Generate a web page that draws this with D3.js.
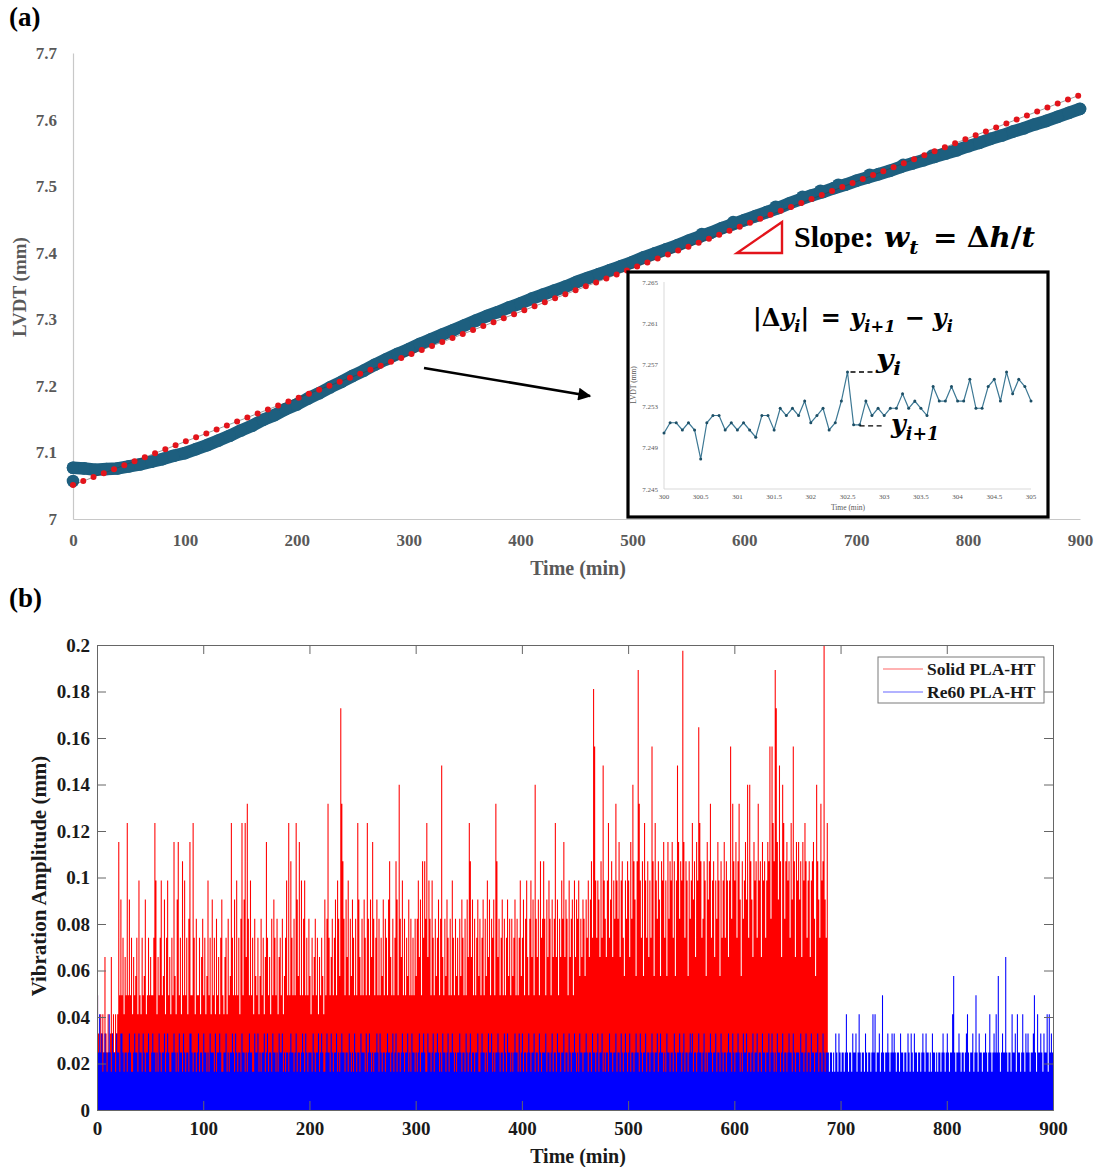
<!DOCTYPE html>
<html>
<head>
<meta charset="utf-8">
<script src="https://cdn.jsdelivr.net/npm/d3@7"></script>
<style>
  body { margin: 0; background: #fff; }
  svg { display: block; }
  text { font-family: "Liberation Serif", "Times New Roman", serif; }
</style>
</head>
<body>
<svg id="fig" width="1101" height="1167"></svg>
<script>
// ---------------- Panel (a): LVDT displacement vs time ----------------
const lvdtTime = d3.range(0, 901, 10); // sampled every 10 min
const lvdtValues = [
  7.077, 7.076, 7.074, 7.075, 7.076, 7.079, 7.082, 7.086, 7.090, 7.095,
  7.099, 7.105, 7.111, 7.118, 7.125, 7.133, 7.140, 7.149, 7.156, 7.165,
  7.172, 7.181, 7.189, 7.198, 7.206, 7.215, 7.223, 7.232, 7.240, 7.248,
  7.255, 7.263, 7.270, 7.277, 7.284, 7.291, 7.298, 7.305, 7.311, 7.318,
  7.324, 7.331, 7.337, 7.343, 7.349, 7.356, 7.362, 7.368, 7.374, 7.380,
  7.386, 7.393, 7.399, 7.405, 7.411, 7.418, 7.424, 7.430, 7.437, 7.443,
  7.449, 7.455, 7.461, 7.467, 7.474, 7.480, 7.486, 7.491, 7.497, 7.502,
  7.508, 7.513, 7.518, 7.523, 7.529, 7.534, 7.539, 7.544, 7.549, 7.554,
  7.560, 7.565, 7.571, 7.576, 7.582, 7.587, 7.593, 7.598, 7.604, 7.610,
  7.616
];
// isolated readings lying off the main band
const lvdtOutliers = [
  [0, 7.057], [562, 7.428], [590, 7.446], [628, 7.469], [652, 7.484],
  [668, 7.493], [684, 7.502], [712, 7.517], [742, 7.532], [768, 7.546]
];
// linear trend line (start, end)
const trendTime = [0, 900];
const trendValues = [7.051, 7.637];

const aYTicks = [7, 7.1, 7.2, 7.3, 7.4, 7.5, 7.6, 7.7];
const aXTicks = [0, 100, 200, 300, 400, 500, 600, 700, 800, 900];

// detail window 300–305 min, one reading every 5 s
const insetValues = [
  7.2504, 7.2514, 7.2514, 7.2507, 7.2514, 7.2507, 7.2479, 7.2514, 7.2521, 7.2521,
  7.2507, 7.2514, 7.2507, 7.2514, 7.2507, 7.2500, 7.2521, 7.2521, 7.2507, 7.2528,
  7.2521, 7.2528, 7.2521, 7.2535, 7.2514, 7.2521, 7.2528, 7.2507, 7.2514, 7.2535,
  7.2563, 7.2512, 7.2512, 7.2535, 7.2521, 7.2528, 7.2521, 7.2528, 7.2528, 7.2542,
  7.2528, 7.2535, 7.2528, 7.2521, 7.2549, 7.2535, 7.2535, 7.2549, 7.2535, 7.2535,
  7.2556, 7.2528, 7.2528, 7.2549, 7.2556, 7.2535, 7.2563, 7.2542, 7.2556, 7.2549,
  7.2535
];
const insetYTicks = [7.245, 7.249, 7.253, 7.257, 7.261, 7.265];
const insetXTicks = [300, 300.5, 301, 301.5, 302, 302.5, 303, 303.5, 304, 304.5, 305];

// ---------------- Panel (b): vibration amplitude ----------------
// peak amplitude per minute, in LVDT resolution steps
const STEP = 0.00823; // mm
const solidLevels = [
  6,4,3,5,4,5,3,8,4,3, 5,3,4,8,4,5,3,5,4,5,
  14,6,11,6,9,5,8,6,15,6, 11,6,9,5,8,6,7,9,5,12,
  6,5,9,6,7,11,5,6,9,6, 8,6,6,9,15,12,5,8,6,9,
  12,6,7,11,5,9,12,6,8,5, 9,6,14,7,5,11,14,6,9,5,
  13,6,12,6,9,5,10,14,6,6, 15,9,5,10,6,6,9,5,8,10,
  6,9,5,7,12,6,9,5,11,6, 9,5,10,6,8,5,9,11,6,5,
  8,9,5,10,6,7,15,9,6,11, 6,12,6,9,5,10,15,6,11,15,
  8,16,10,6,12,6,9,5,10,7, 6,9,5,7,10,6,9,5,8,14,
  9,6,8,5,10,6,11,9,6,10, 5,8,9,6,10,5,7,9,12,6,
  15,6,13,9,6,10,6,15,11,7, 14,6,12,6,10,12,6,9,6,10,
  7,5,9,6,8,10,6,9,5,8, 6,9,7,5,11,6,10,16,9,6,
  8,10,6,9,11,6,12,10,7,21, 16,13,10,6,11,8,12,6,10,7,
  11,9,6,10,6,15,11,8,6,10, 6,11,9,6,15,10,6,11,8,14,
  10,6,9,11,6,10,6,9,7,11, 6,10,9,6,11,13,8,6,10,6,
  9,13,11,6,17,10,8,12,6,10, 6,9,7,11,6,10,6,9,6,10,
  7,10,12,8,11,6,13,9,13,10, 15,8,12,10,6,12,9,6,10,7,
  9,11,6,10,18,8,6,10,7,11, 9,6,10,6,12,9,6,10,7,9,
  6,10,7,11,9,6,10,6,11,8, 15,13,8,11,6,10,6,9,11,7,
  10,6,9,11,6,10,7,12,8,11, 6,10,9,11,6,16,13,8,10,6,
  9,11,6,10,6,9,11,7,10,6, 10,7,9,11,6,10,6,9,12,7,
  9,11,6,10,12,8,6,10,12,8, 11,6,17,10,8,11,6,13,9,10,
  13,10,6,11,8,12,10,6,11,8, 10,15,8,11,6,10,8,12,10,14,
  8,11,10,6,12,8,10,11,6,12, 8,11,10,12,7,10,8,11,10,7,
  11,9,12,8,11,13,9,22,19,12, 9,12,11,8,13,9,18,12,10,8,
  12,15,9,11,13,8,12,10,16,12, 10,14,8,12,13,9,7,12,10,13,
  12,8,14,10,17,13,11,7,13,23, 16,12,9,13,7,15,12,9,13,8,
  12,9,19,13,7,15,12,10,13,11, 7,13,12,14,9,12,7,14,10,13,
  12,14,9,13,7,12,18,14,10,13, 12,24,14,9,13,12,7,13,10,12,
  15,11,13,8,14,12,20,15,13,9, 10,13,12,7,14,11,13,16,9,12,
  13,8,12,10,14,12,7,13,9,12, 14,9,13,12,8,12,19,10,16,13,
  12,14,9,13,16,11,7,13,10,12, 14,11,17,9,17,13,11,8,14,12,
  13,9,16,12,13,8,14,12,13,9, 12,14,13,19,10,19,15,13,23,21,
  14,11,18,13,8,17,15,10,13,14, 12,13,9,15,11,19,13,8,14,12,
  14,11,13,8,14,12,15,13,9,12, 13,8,12,13,14,10,7,17,13,11,
  9,16,12,13,27,11,9,15
];
const re60Levels = [
  6,3,5,3,4,2,3,4,3,2,3,5,3,2,4,3,3,2,4,3,
  3,2,4,4,3,2,3,3,2,3,4,3,2,2,3,4,3,3,2,4,
  3,3,2,4,3,2,3,3,4,2,2,3,4,3,3,2,3,2,4,3,
  2,3,3,4,2,3,4,3,2,2,3,3,4,3,2,3,2,4,3,3,
  2,4,3,2,3,3,2,4,4,3,2,3,3,2,3,4,2,3,3,2,
  4,3,3,2,3,2,4,3,3,3,2,4,2,3,3,4,3,2,2,3,
  3,4,2,3,2,3,3,4,3,2,4,3,2,3,3,2,4,3,3,2,
  3,2,3,4,3,3,2,2,4,3,3,4,2,3,2,3,3,4,2,3,
  4,2,3,3,2,4,3,3,2,3,2,4,3,3,4,2,3,2,3,3,
  2,3,4,3,3,2,3,4,2,3,3,2,3,4,3,2,4,3,2,3,
  3,3,2,4,3,2,3,3,4,2,3,4,3,2,2,3,4,3,3,2,
  4,3,2,3,3,4,2,3,2,3,4,3,3,2,3,3,2,4,3,2,
  3,2,4,3,2,3,3,2,4,3,3,3,2,4,2,3,4,3,2,3,
  2,3,3,4,3,2,4,3,2,3,3,2,3,4,3,3,2,3,4,2,
  3,4,2,3,3,2,3,4,3,2,3,3,4,2,3,2,4,3,3,2,
  3,2,3,4,2,3,3,4,3,2,2,4,3,3,2,3,4,2,3,3,
  4,3,2,3,2,4,3,3,2,3,4,2,3,3,4,3,2,3,2,3,
  3,4,3,2,3,3,2,4,3,2,3,4,2,3,3,2,3,3,4,2,
  2,3,4,3,3,2,3,2,4,3,3,4,2,3,2,3,3,4,3,2,
  3,3,2,4,3,2,4,3,3,2,3,2,3,4,3,3,2,4,2,3,
  4,2,3,3,2,3,4,3,2,3,3,4,2,3,3,2,4,3,2,3,
  3,3,4,2,3,3,2,3,4,2,3,3,2,4,3,3,2,3,3,4,
  2,3,3,2,4,3,2,3,3,4,3,2,3,2,4,3,3,2,3,3,
  4,3,2,3,3,2,4,3,3,2,3,4,2,3,3,4,2,3,2,3,
  3,2,4,3,3,2,3,3,4,2,3,3,2,4,3,2,3,4,3,2,
  3,4,2,3,3,2,3,4,3,3,2,4,3,2,3,3,4,2,3,3,
  2,3,4,3,2,3,3,4,2,3,4,3,3,2,3,2,4,3,3,2,
  3,3,2,4,3,2,3,3,4,3,2,3,4,2,3,3,2,3,4,3,
  4,2,3,3,2,3,4,3,3,2,3,4,2,3,2,3,3,4,3,2,
  3,3,4,2,3,3,2,4,3,2,3,3,2,3,4,3,3,2,4,3,
  2,3,3,4,3,2,3,2,4,3,3,4,2,3,3,2,3,4,2,3,
  3,4,2,3,3,2,4,3,3,2,3,3,4,2,3,4,3,2,3,2,
  4,3,3,2,3,4,2,3,3,2,3,4,3,3,2,4,3,2,3,3,
  3,2,4,3,3,2,3,4,2,3,3,2,4,3,3,2,3,3,4,2,
  3,3,2,4,3,2,3,3,
  3,2,3,3,2,3,2,4,3,2,4,3,
  2,3,3,2,3,5,3,2,3,3, 2,4,3,3,4,2,3,5,3,2,
  3,3,2,4,3,2,3,3,2,3, 5,3,5,2,3,3,4,2,3,6,
  3,2,3,3,4,3,2,3,4,3, 4,3,2,3,3,2,4,3,3,2,
  3,3,2,4,3,2,4,3,2,4, 3,3,2,3,3,2,3,4,3,2,
  4,3,3,2,3,2,4,3,3,2, 3,2,3,3,2,3,4,3,2,3,
  4,3,2,3,3,5,7,3,2,3, 3,4,3,2,3,3,2,3,4,5,
  3,2,3,3,4,2,3,6,3,2, 4,3,3,2,3,3,4,3,2,3,
  5,3,2,3,4,3,5,3,7,3, 2,3,4,3,3,8,3,2,3,3,
  2,5,3,3,4,2,5,3,3,2, 3,5,3,2,4,3,4,3,2,3,
  3,4,6,3,2,5,3,3,4,3, 2,4,3,3,5,2,5,3,4,3
];
const bYTicks = [0, 0.02, 0.04, 0.06, 0.08, 0.1, 0.12, 0.14, 0.16, 0.18, 0.2];
const bXTicks = [0, 100, 200, 300, 400, 500, 600, 700, 800, 900];
const seriesNames = ["Solid PLA-HT", "Re60 PLA-HT"];
const seriesColors = ["#ff0000", "#0000ff"];

// ======================================================================
const svg = d3.select("#fig");
const serif = '"Liberation Serif", "Times New Roman", serif';
const mathFont = '"DejaVu Serif", serif';

// places pieces of a formula one after the other, then scales to a width
function formula(parent, x, y, pieces, size, targetWidth) {
  const g = parent.append("g");
  let cx = 0;
  pieces.forEach(p => {
    cx += p.pre || 0;
    const fs = p.sub ? size * 0.68 : size;
    const t = g.append("text")
      .attr("x", cx).attr("y", p.sub ? size * 0.25 : 0)
      .style("font-family", mathFont)
      .style("font-size", fs + "px")
      .style("font-weight", "bold")
      .style("font-style", p.it ? "italic" : "normal")
      .attr("fill", "#000")
      .text(p.t);
    cx += t.node().getComputedTextLength();
  });
  const s = targetWidth ? targetWidth / cx : 1;
  g.attr("transform", `translate(${x},${y}) scale(${s},1)`);
  return g;
}

// ----- panel labels -----
svg.append("text").attr("x", 9).attr("y", 26).text("(a)")
  .style("font-size", "27px").style("font-weight", "bold");
svg.append("text").attr("x", 9).attr("y", 607).text("(b)")
  .style("font-size", "27px").style("font-weight", "bold");

// ======================= Panel (a) =======================
const xA = d3.scaleLinear().domain([0, 900]).range([73, 1080]);
const yA = d3.scaleLinear().domain([7, 7.7]).range([519, 53]);
const gA = svg.append("g");

const axLeft = gA.append("g").attr("transform", "translate(73,0)")
  .call(d3.axisLeft(yA).tickValues(aYTicks).tickSize(0).tickPadding(16).tickFormat(d => String(d)));
const axBottom = gA.append("g").attr("transform", "translate(0,519)")
  .call(d3.axisBottom(xA).tickValues(aXTicks).tickSize(0).tickPadding(15).tickFormat(d => String(d)));
[axLeft, axBottom].forEach(a => {
  a.select(".domain").attr("stroke", "#c8c8c8").attr("stroke-width", 1.2);
  a.selectAll("text").attr("fill", "#595959")
    .style("font-family", serif).style("font-size", "17px").style("font-weight", "bold");
});
gA.append("text").attr("x", 578).attr("y", 575).attr("text-anchor", "middle")
  .attr("fill", "#595959").style("font-size", "20px").style("font-weight", "bold")
  .text("Time (min)");
gA.append("text").attr("transform", "translate(26,287) rotate(-90)").attr("text-anchor", "middle")
  .attr("fill", "#595959").style("font-size", "19px").style("font-weight", "bold")
  .text("LVDT (mm)");

// measured band
const bandColor = "#1d5f7f";
const lvdtPts = lvdtTime.map((t, i) => [t, lvdtValues[i]]);
gA.append("path").datum(lvdtPts)
  .attr("d", d3.line().x(d => xA(d[0])).y(d => yA(d[1])))
  .attr("fill", "none").attr("stroke", bandColor).attr("stroke-width", 12.5)
  .attr("stroke-linecap", "round").attr("stroke-linejoin", "round");
gA.append("g").selectAll("circle").data(lvdtPts.concat(lvdtOutliers)).join("circle")
  .attr("cx", d => xA(d[0])).attr("cy", d => yA(d[1])).attr("r", 6.3)
  .attr("fill", bandColor);

// trend line
const trendPts = trendTime.map((t, i) => [t, trendValues[i]]);
const trendLine = d3.line().x(d => xA(d[0])).y(d => yA(d[1]));
gA.append("path").datum(trendPts).attr("d", trendLine)
  .attr("fill", "none").attr("stroke", "#3a3a3a").attr("stroke-width", 1).attr("opacity", 0.5);
gA.append("path").datum(trendPts).attr("d", trendLine)
  .attr("fill", "none").attr("stroke", "#e3141b").attr("stroke-width", 6)
  .attr("stroke-linecap", "round").attr("stroke-dasharray", "0 11");

// slope annotation
gA.append("path").attr("d", "M737,253 L782,253 L782,222 Z")
  .attr("fill", "none").attr("stroke", "#e3141b").attr("stroke-width", 2.4);
gA.append("text").attr("x", 794).attr("y", 247).text("Slope:")
  .style("font-size", "30px").style("font-weight", "bold").attr("fill", "#000");
formula(gA, 884, 247, [
  { t: "w", it: true }, { t: "t", it: true, sub: true },
  { t: "=", pre: 14 }, { t: "Δ", pre: 9 }, { t: "h", it: true }, { t: "/" }, { t: "t", it: true }
], 28, 151);

// arrow to the detail window
const defs = svg.append("defs");
defs.append("marker").attr("id", "arrowHead").attr("viewBox", "0 0 10 10")
  .attr("refX", 9).attr("refY", 5).attr("markerWidth", 6).attr("markerHeight", 5)
  .attr("markerUnits", "strokeWidth").attr("orient", "auto")
  .append("path").attr("d", "M0,0 L10,5 L0,10 Z").attr("fill", "#000");
gA.append("line").attr("x1", 424).attr("y1", 368).attr("x2", 590).attr("y2", 396)
  .attr("stroke", "#000").attr("stroke-width", 2.6).attr("marker-end", "url(#arrowHead)");

// ----- detail window -----
const gI = gA.append("g");
gI.append("rect").attr("x", 628).attr("y", 272).attr("width", 420).attr("height", 245)
  .attr("fill", "#fff").attr("stroke", "#000").attr("stroke-width", 3.2);
const xI = d3.scaleLinear().domain([300, 305]).range([664, 1031]);
const yI = d3.scaleLinear().domain([7.245, 7.265]).range([489, 282]);
gI.append("line").attr("x1", 664).attr("x2", 664).attr("y1", 282).attr("y2", 489)
  .attr("stroke", "#d9d9d9");
gI.append("line").attr("x1", 664).attr("x2", 1031).attr("y1", 489).attr("y2", 489)
  .attr("stroke", "#d9d9d9");
gI.selectAll(".iy").data(insetYTicks).join("text")
  .attr("x", 658).attr("y", d => yI(d) + 2.5).attr("text-anchor", "end")
  .attr("fill", "#595959").style("font-size", "7px").text(d => d3.format(".3f")(d));
gI.selectAll(".ix").data(insetXTicks).join("text")
  .attr("x", d => xI(d)).attr("y", 499).attr("text-anchor", "middle")
  .attr("fill", "#595959").style("font-size", "7px").text(d => String(d));
gI.append("text").attr("x", 848).attr("y", 510).attr("text-anchor", "middle")
  .attr("fill", "#595959").style("font-size", "7.5px").text("Time (min)");
gI.append("text").attr("transform", "translate(636,385) rotate(-90)").attr("text-anchor", "middle")
  .attr("fill", "#595959").style("font-size", "7.5px").text("LVDT (mm)");

const insetPts = insetValues.map((v, i) => [300 + i * 5 / 60, v]);
gI.append("path").datum(insetPts)
  .attr("d", d3.line().x(d => xI(d[0])).y(d => yI(d[1])))
  .attr("fill", "none").attr("stroke", "#3d7894").attr("stroke-width", 1.2);
gI.selectAll(".ip").data(insetPts).join("circle")
  .attr("cx", d => xI(d[0])).attr("cy", d => yI(d[1])).attr("r", 1.5)
  .attr("fill", "#1d4f66");

// formula and point labels
formula(gI, 753, 326, [
  { t: "|Δ" }, { t: "y", it: true }, { t: "i", it: true, sub: true }, { t: "|" },
  { t: "=", pre: 12 }, { t: "y", it: true, pre: 10 }, { t: "i+1", it: true, sub: true },
  { t: "−", pre: 10 }, { t: "y", it: true, pre: 8 }, { t: "i", it: true, sub: true }
], 25, 200);

const peakIdx = 30;             // y_i
const nextIdx = peakIdx + 1;    // y_(i+1)
gI.append("line").attr("x1", xI(insetPts[peakIdx][0]) + 3).attr("x2", 874)
  .attr("y1", yI(insetPts[peakIdx][1])).attr("y2", yI(insetPts[peakIdx][1]))
  .attr("stroke", "#000").attr("stroke-width", 1.4).attr("stroke-dasharray", "5,3.5");
formula(gI, 876, 368, [{ t: "y", it: true }, { t: "i", it: true, sub: true }], 26, 25);
gI.append("line").attr("x1", xI(insetPts[nextIdx][0]) + 6).attr("x2", 882)
  .attr("y1", yI(insetPts[nextIdx][1]) + 1).attr("y2", yI(insetPts[nextIdx][1]) + 1)
  .attr("stroke", "#000").attr("stroke-width", 1.4).attr("stroke-dasharray", "5,3.5");
formula(gI, 891, 433, [{ t: "y", it: true }, { t: "i+1", it: true, sub: true }], 26, 48);

// ======================= Panel (b) =======================
const xB = d3.scaleLinear().domain([0, 900]).range([97, 1053]);
const yB = d3.scaleLinear().domain([0, 0.2]).range([1110, 645]);
const gB = svg.append("g");

defs.append("clipPath").attr("id", "clipB").append("rect")
  .attr("x", 97).attr("y", 645).attr("width", 956).attr("height", 465);

const plotB = gB.append("g").attr("clip-path", "url(#clipB)");
// one filled column per minute, from zero up to that minute's peak
function columns(levels) {
  return levels.map((k, i) => {
    const x0 = xB(i).toFixed(2), x1 = xB(i + 1).toFixed(2);
    const y1 = yB(k * STEP).toFixed(2);
    return `M${x0},${yB(0)}V${y1}H${x1}V${yB(0)}Z`;
  }).join("");
}
plotB.append("path").attr("d", columns(solidLevels)).attr("fill", seriesColors[0]);
plotB.append("path").attr("d", columns(re60Levels)).attr("fill", seriesColors[1]);

// box with inward ticks
const tk = 9;
const bLeft = gB.append("g").attr("transform", "translate(97,0)")
  .call(d3.axisLeft(yB).tickValues(bYTicks).tickSize(-tk).tickPadding(7).tickFormat(d => String(d)));
const bRight = gB.append("g").attr("transform", "translate(1053,0)")
  .call(d3.axisRight(yB).tickValues(bYTicks).tickSize(-tk).tickFormat(""));
const bBottom = gB.append("g").attr("transform", "translate(0,1110)")
  .call(d3.axisBottom(xB).tickValues(bXTicks).tickSize(-tk).tickPadding(12).tickFormat(d => String(d)));
const bTop = gB.append("g").attr("transform", "translate(0,645)")
  .call(d3.axisTop(xB).tickValues(bXTicks).tickSize(-tk).tickFormat(""));
[bLeft, bRight, bBottom, bTop].forEach(a => {
  a.select(".domain").attr("stroke", "#666").attr("stroke-width", 1);
  a.selectAll(".tick line").attr("stroke", "#666");
  a.selectAll("text").attr("fill", "#1a1a1a")
    .style("font-family", serif).style("font-size", "19px").style("font-weight", "bold");
});
gB.append("text").attr("x", 578).attr("y", 1163).attr("text-anchor", "middle")
  .style("font-size", "20px").style("font-weight", "bold").attr("fill", "#1a1a1a")
  .text("Time (min)");
gB.append("text").attr("transform", "translate(46,876) rotate(-90)").attr("text-anchor", "middle")
  .style("font-size", "21px").style("font-weight", "bold").attr("fill", "#1a1a1a")
  .text("Vibration Amplitude (mm)");

// legend
const lg = gB.append("g");
lg.append("rect").attr("x", 878).attr("y", 657).attr("width", 166).attr("height", 46)
  .attr("fill", "#fff").attr("stroke", "#7a7a7a").attr("stroke-width", 1);
seriesNames.forEach((name, i) => {
  const yy = 669 + i * 23;
  lg.append("line").attr("x1", 883).attr("x2", 923).attr("y1", yy).attr("y2", yy)
    .attr("stroke", seriesColors[i]).attr("stroke-width", 1).attr("opacity", 0.6);
  lg.append("text").attr("x", 927).attr("y", yy + 6).text(name)
    .style("font-size", "17.5px").style("font-weight", "bold").attr("fill", "#1a1a1a");
});
</script>
</body>
</html>
